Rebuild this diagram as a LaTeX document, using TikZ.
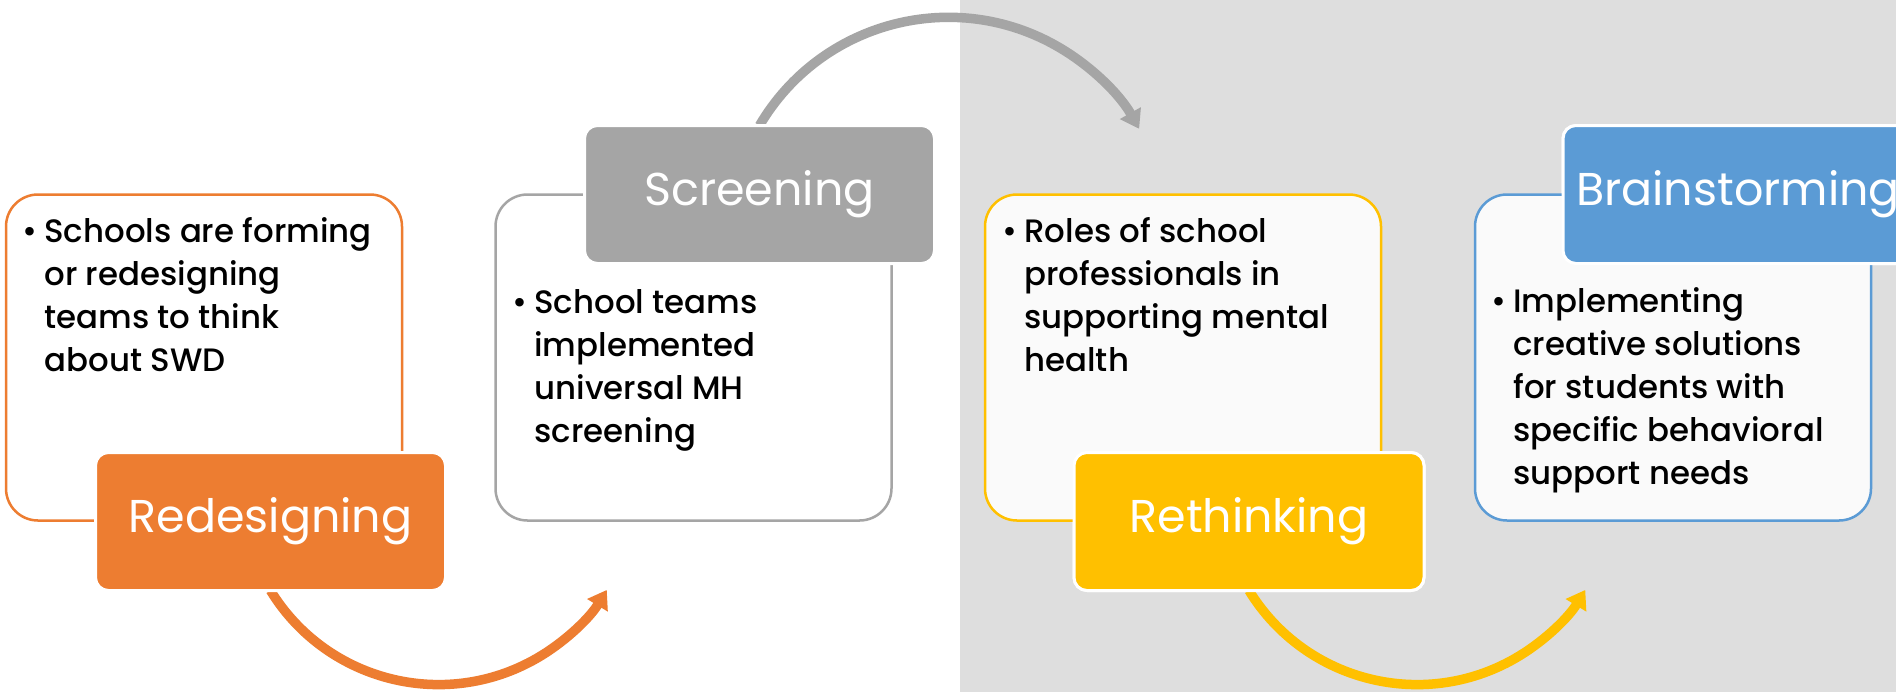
\documentclass[tikz,border=0pt]{standalone}
\usepackage{fontspec}
\setmainfont{Poppins}[UprightFont=* Medium]
\newfontfamily\titlefont{Poppins}
\usetikzlibrary{arrows.meta}
\definecolor{accOrange}{HTML}{ED7D31}
\definecolor{accGray}{HTML}{A5A5A5}
\definecolor{accGold}{HTML}{FFC000}
\definecolor{accBlue}{HTML}{5B9BD5}
\definecolor{pageGray}{HTML}{DEDEDE}
\definecolor{panelFill}{HTML}{FAFAFA}
% bulleted item: bullet in a fixed-width box, lines stacked beside it
\newcommand\bulleted[1]{\makebox[13.5pt][l]{\hspace{2.5pt}•}\parbox[t]{175pt}{\raggedright #1}}
\begin{document}
\begin{tikzpicture}[x=0.5pt,y=-0.5pt,
  panel/.style={rectangle, rounded corners=16pt, line width=1.25pt,
    minimum width=198pt, minimum height=163pt, inner sep=0pt, outer sep=0pt},
  titlebox/.style={rectangle, rounded corners=6.5pt, draw=white, line width=1.5pt,
    minimum width=175pt, minimum height=69pt, inner sep=0pt, outer sep=0pt,
    text=white, font=\titlefont\fontsize{23}{27}\selectfont},
  bodytext/.style={anchor=base west, inner sep=0pt,
    font=\fontsize{16.2}{21.5}\selectfont},
  flow/.style={line width=4.75pt, -{Triangle[length=9pt,width=11.5pt]}}
]
\clip (0,0) rectangle (1896,692);
% page halves
\fill[white] (0,0) rectangle (960,692);
\fill[pageGray] (960,0) rectangle (1896,692);

% title boxes (placed first so the arrows can start from them)
\path
  (270.5,521.5) node[titlebox, fill=accOrange] (t1) {}
  (759.5,194.5) node[titlebox, fill=accGray] (t2) {}
  (1249,521.5) node[titlebox, fill=accGold] (t3) {}
  (1738,194.5) node[titlebox, fill=accBlue] (t4) {};

% curved arrows between the stages
\draw[flow, accOrange] (t1.south) arc[start angle=148.5, end angle=31.3, radius=197];
\draw[flow, accGray] (t2.north) arc[start angle=210.4, end angle=330.6, radius=219];
\draw[flow, accGold] (t3.south) arc[start angle=148.5, end angle=31.3, radius=197];

% content panels
\node[panel, draw=accOrange, fill=white] (b1) at (204,357.5) {};
\node[panel, draw=accGray, fill=white] (b2) at (693.5,357.5) {};
\node[panel, draw=accGold, fill=panelFill] (b3) at (1183,357.5) {};
\node[panel, draw=accBlue, fill=panelFill] (b4) at (1673,357.5) {};

\node[bodytext] (x1) at (17,242) {\bulleted{Schools are forming\\or redesigning\\teams to think\\about SWD}};
\node[bodytext] (x2) at (507,313) {\bulleted{School teams\\implemented\\universal MH\\screening}};
\node[bodytext] (x3) at (997,242) {\bulleted{Roles of school\\professionals in\\supporting mental\\health}};
\node[bodytext] (x4) at (1486,312) {\bulleted{Implementing\\creative solutions\\for students with\\specific behavioral\\support needs}};

% title boxes drawn on top of the panels
\node[titlebox, fill=accOrange] at (t1) {Redesigning};
\node[titlebox, fill=accGray] at (t2) {Screening};
\node[titlebox, fill=accGold] at (t3) {Rethinking};
\node[titlebox, fill=accBlue] at (t4) {Brainstorming};
\end{tikzpicture}
\end{document}
